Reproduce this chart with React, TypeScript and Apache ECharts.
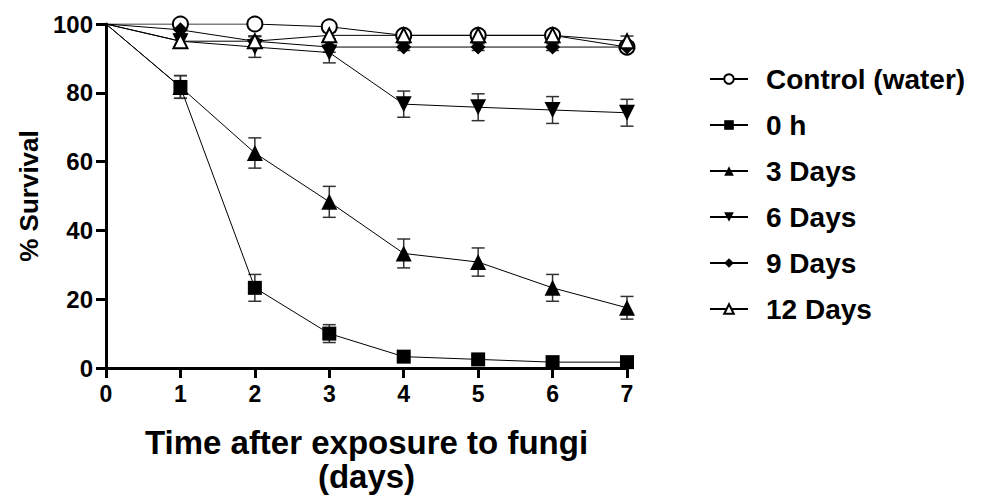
import React, { useEffect, useRef } from "react";
import * as echarts from "echarts";

const days = [0, 1, 2, 3, 4, 5, 6, 7];
const seriesNames = ["Control (water)", "0 h", "3 Days", "6 Days", "9 Days", "12 Days"];

const controlVals = [100, 100, 100, 99.2, 96.7, 96.7, 96.7, 93.3];
const h0Vals = [100, 81.7, 23.3, 10, 3.3, 2.5, 1.7, 1.7];
const d3Vals = [100, 81.7, 62.5, 48.3, 33.3, 30.8, 23.3, 17.5];
const d6Vals = [100, 95, 93.3, 91.7, 76.7, 75.8, 75, 74.2];
const d9Vals = [100, 98.3, 95, 93.3, 93.3, 93.3, 93.3, 93.3];
const d12Vals = [100, 95, 95, 96.7, 96.7, 96.7, 96.7, 95];

const controlErr = [0, 0, 0, 1, 1, 1, 1, 1.5];
const h0Err = [0, 3.3, 3.9, 2.6, 1, 1, 0.8, 0.8];
const d3Err = [0, 3.3, 4.4, 4.5, 4.2, 4.1, 3.9, 3.3];
const d6Err = [0, 1.5, 3, 3, 3.8, 3.9, 3.9, 3.9];
const d9Err = [0, 1.2, 1.5, 1.5, 1, 1, 1, 1];
const d12Err = [0, 1.5, 1.5, 1, 1, 1, 1, 1.5];

const yTicks = [0, 20, 40, 60, 80, 100];

const FONT = "'Liberation Sans', Arial, sans-serif";

export default function App() {
  const ref = useRef<HTMLDivElement>(null);
  useEffect(() => {
    if (!ref.current) return;
    const chart = echarts.init(ref.current, undefined, { renderer: "svg" });

    const allVals = [controlVals, h0Vals, d3Vals, d6Vals, d9Vals, d12Vals];
    const allErr = [controlErr, h0Err, d3Err, d6Err, d9Err, d12Err];
    const symbols = ["emptyCircle", "rect", "triangle", "triangle", "diamond", "emptyTriangle"];
    const rotates = [0, 0, 0, 180, 0, 0];
    const sizes = [15, 14, 16, 16, 15, 14];

    const errData: number[][] = [];
    allVals.forEach((vals, si) => {
      vals.forEach((v, i) => {
        if (allErr[si][i] > 0) errData.push([days[i], v, allErr[si][i]]);
      });
    });

    const lineSeries = seriesNames.map((name, si) => ({
      name,
      type: "line",
      data: days.map((d, i) =>
        d === 0 ? { value: [d, allVals[si][i]], symbol: "none" } : [d, allVals[si][i]]
      ),
      symbol: symbols[si],
      symbolSize: sizes[si],
      symbolRotate: rotates[si],
      showAllSymbol: true,
      lineStyle: { color: "#000", width: 1 },
      itemStyle: { color: "#000", borderColor: "#000", borderWidth: si === 0 || si === 5 ? 2.5 : 0 },
      z: 3,
    }));

    const errSeries = {
      type: "custom",
      name: "err",
      data: errData,
      z: 2,
      renderItem: (params: any, api: any) => {
        const x = api.value(0);
        const y = api.value(1);
        const e = api.value(2);
        const top = api.coord([x, y + e]);
        const bot = api.coord([x, y - e]);
        const w = 6.5;
        const style = { stroke: "#333", lineWidth: 1.5 };
        return {
          type: "group",
          children: [
            { type: "line", shape: { x1: top[0], y1: top[1], x2: bot[0], y2: bot[1] }, style },
            { type: "line", shape: { x1: top[0] - w, y1: top[1], x2: top[0] + w, y2: top[1] }, style },
            { type: "line", shape: { x1: bot[0] - w, y1: bot[1], x2: bot[0] + w, y2: bot[1] }, style },
          ],
        };
      },
    };

    chart.setOption({
      animation: false,
      backgroundColor: "#fff",
      textStyle: { fontFamily: FONT },
      grid: { left: 106, right: 354, top: 24, bottom: 129, containLabel: false, outerBoundsMode: "none" },
      legend: {
        data: seriesNames,
        orient: "vertical",
        left: 704,
        top: 60,
        itemWidth: 38,
        itemHeight: 12,
        itemGap: 18,
        textStyle: { fontSize: 28, fontWeight: "bold", color: "#000", fontFamily: FONT, padding: [0, 0, 0, 13] },
        selectedMode: false,
      },
      xAxis: {
        type: "value",
        min: 0,
        max: 7,
        interval: 1,
        name: "Time after exposure to fungi\n(days)",
        nameLocation: "middle",
        nameGap: 57,
        nameTextStyle: { fontSize: 33, fontWeight: "bold", color: "#000", lineHeight: 34, fontFamily: FONT },
        axisLine: { lineStyle: { color: "#000", width: 3 } },
        axisTick: { length: 10, lineStyle: { color: "#000", width: 3 } },
        axisLabel: { fontSize: 23, fontWeight: "bold", color: "#000", margin: 14, fontFamily: FONT },
        splitLine: { show: false },
      },
      yAxis: {
        type: "value",
        min: 0,
        max: 100,
        interval: 20,
        name: "% Survival",
        nameLocation: "middle",
        nameGap: 63,
        nameTextStyle: { fontSize: 26, fontWeight: "bold", color: "#000", fontFamily: FONT },
        axisLine: { lineStyle: { color: "#000", width: 3 } },
        axisTick: { length: 10, lineStyle: { color: "#000", width: 3 } },
        axisLabel: {
          fontSize: 24,
          fontWeight: "bold",
          color: "#000",
          margin: 13,
          fontFamily: FONT,
          formatter: (v: number) => (yTicks.includes(v) ? String(v) : ""),
        },
        splitLine: { show: false },
      },
      series: [errSeries, ...lineSeries],
    });

    return () => chart.dispose();
  }, []);

  return <div ref={ref} style={{ width: 981, height: 497, position: "absolute", left: 0, top: 0 }} />;
}
